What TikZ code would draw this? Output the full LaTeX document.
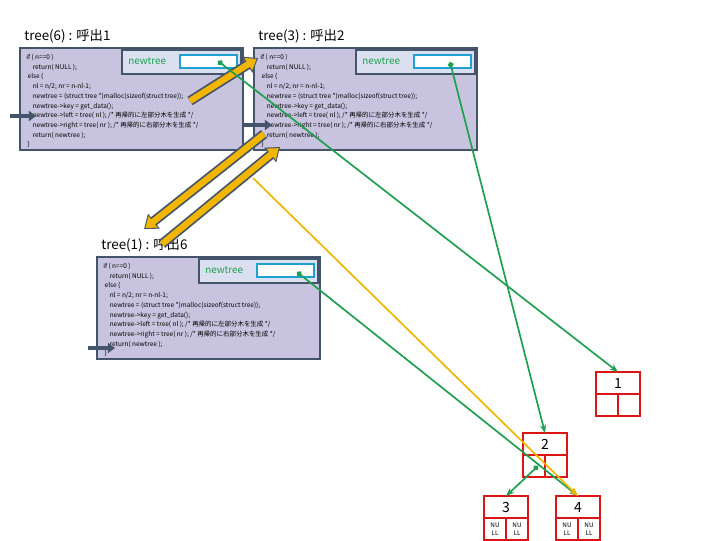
\documentclass[tikz,border=0pt]{standalone}
\usepackage{fontspec}
\setmainfont{Noto Sans CJK JP}
\usetikzlibrary{arrows.meta}
\definecolor{slate}{RGB}{68,84,106}
\definecolor{lav}{RGB}{200,195,222}
\definecolor{pale}{RGB}{218,224,240}
\definecolor{cyanb}{RGB}{30,160,210}
\definecolor{grn}{RGB}{30,160,80}
\definecolor{ylw}{RGB}{242,182,0}
\definecolor{rd}{RGB}{220,20,20}
\tikzset{
  frame/.style={draw=slate,fill=lav,line width=1.5pt},
  panel/.style={draw=slate,fill=pale,line width=1.5pt},
  slot/.style={draw=cyanb,fill=white,line width=1.8pt},
  code/.style={anchor=north west,align=left,inner sep=0pt,font=\fontsize{4.6}{6.9}\selectfont},
  title/.style={anchor=west,inner sep=0pt,font=\fontsize{9.5}{11}\selectfont},
  cell/.style={draw=rd,line width=1.5pt},
  ptr/.style={grn,line width=1.2pt,{Circle[length=4pt]}-{Stealth[length=6pt]}},
  marker/.style={slate,line width=3pt,-{Triangle[length=5pt,width=7pt]}},
}
\newcommand{\codetext}{if ( n==0 )\\
\quad return( NULL );\\
\ else \{\\
\quad nl = n/2; nr = n-nl-1;\\
\quad newtree = (struct tree *)malloc(sizeof(struct tree));\\
\quad newtree->key = get\_data();\\
\quad newtree->left = tree( nl ); /* 再帰的に左部分木を生成 */\\
\quad newtree->right = tree( nr ); /* 再帰的に右部分木を生成 */\\
\quad return( newtree );\\
\ \}}
\newcommand{\callbox}[3]{% x, y, title
\begin{scope}[shift={(#1,#2)}]
\draw[frame] (0,0) rectangle (223,102);
\node[code] at (6,6) {\codetext};
\draw[panel] (102,2) rectangle (221,26);
\node[grn,anchor=west,inner sep=0pt,font=\fontsize{7}{8}\selectfont] at (108,13) {newtree};
\draw[slot] (160,7) rectangle (217,20);
\node[title] at (4,-12) {#3};
\end{scope}}
\newcommand{\treenode}[4]{% name, x, y, label
\begin{scope}[shift={(#2,#3)}]
\draw[cell] (0,0) rectangle (44,44);
\draw[cell] (0,22) -- (44,22) (22,22) -- (22,44);
\node[inner sep=0pt,font=\fontsize{10}{10}\selectfont] (#1) at (22,11) {#4};
\coordinate (#1top) at (22,0);
\coordinate (#1L) at (15,33);
\end{scope}}
\begin{document}
\begin{tikzpicture}[x=0.025cm,y=-0.025cm]
\useasboundingbox (0,0) rectangle (720,540);

\callbox{20}{48}{tree(6) : 呼出1}
\callbox{254}{48}{tree(3) : 呼出2}
\callbox{97}{257}{tree(1) : 呼出6}

% current line markers
\draw[marker] (10,116) -- (36,116);
\draw[marker] (244,125) -- (272,125);
\draw[marker] (88,348) -- (115,348);

% tree nodes
\treenode{n1}{596}{372}{1}
\treenode{n2}{523}{433}{2}
\treenode{n3}{484}{496}{3}
\treenode{n4}{556}{496}{4}
\foreach \x in {484,556}{
  \node[font=\fontsize{4.5}{5.5}\selectfont,align=center,inner sep=0pt] at (\x+11,529) {NU\\LL};
  \node[font=\fontsize{4.5}{5.5}\selectfont,align=center,inner sep=0pt] at (\x+33,529) {NU\\LL};
}

% call / return arrows
\coordinate (a1) at (190,101); \coordinate (a2) at (258,58);
\coordinate (b1) at (264,134); \coordinate (b2) at (144,229);
\coordinate (c1) at (162,244); \coordinate (c2) at (280,147);
\foreach \p/\q in {a1/a2,b1/b2,c1/c2}{
  \draw[slate,line width=7pt,-{Triangle[length=9pt,width=13pt]}] (\p) -- (\q);
  \draw[ylw,line width=4.5pt,shorten >=1.2pt,-{Triangle[length=7pt,width=10pt]}] (\p) -- (\q);
}

% pointers
\coordinate (p6) at (218,61);
\coordinate (p3) at (450,62);
\coordinate (p1) at (297,272);
\coordinate (y0) at (253,178);
\draw[ptr] (p6) -- (n1top);
\draw[ptr] (p3) -- (n2top);
\draw[ptr] (p1) -- (n4top);
\draw[ptr] (n2L) -- (n3top);
\draw[ylw,line width=1.2pt,-{Stealth[length=6pt]}] (y0) -- (n4top);
\end{tikzpicture}
\end{document}
